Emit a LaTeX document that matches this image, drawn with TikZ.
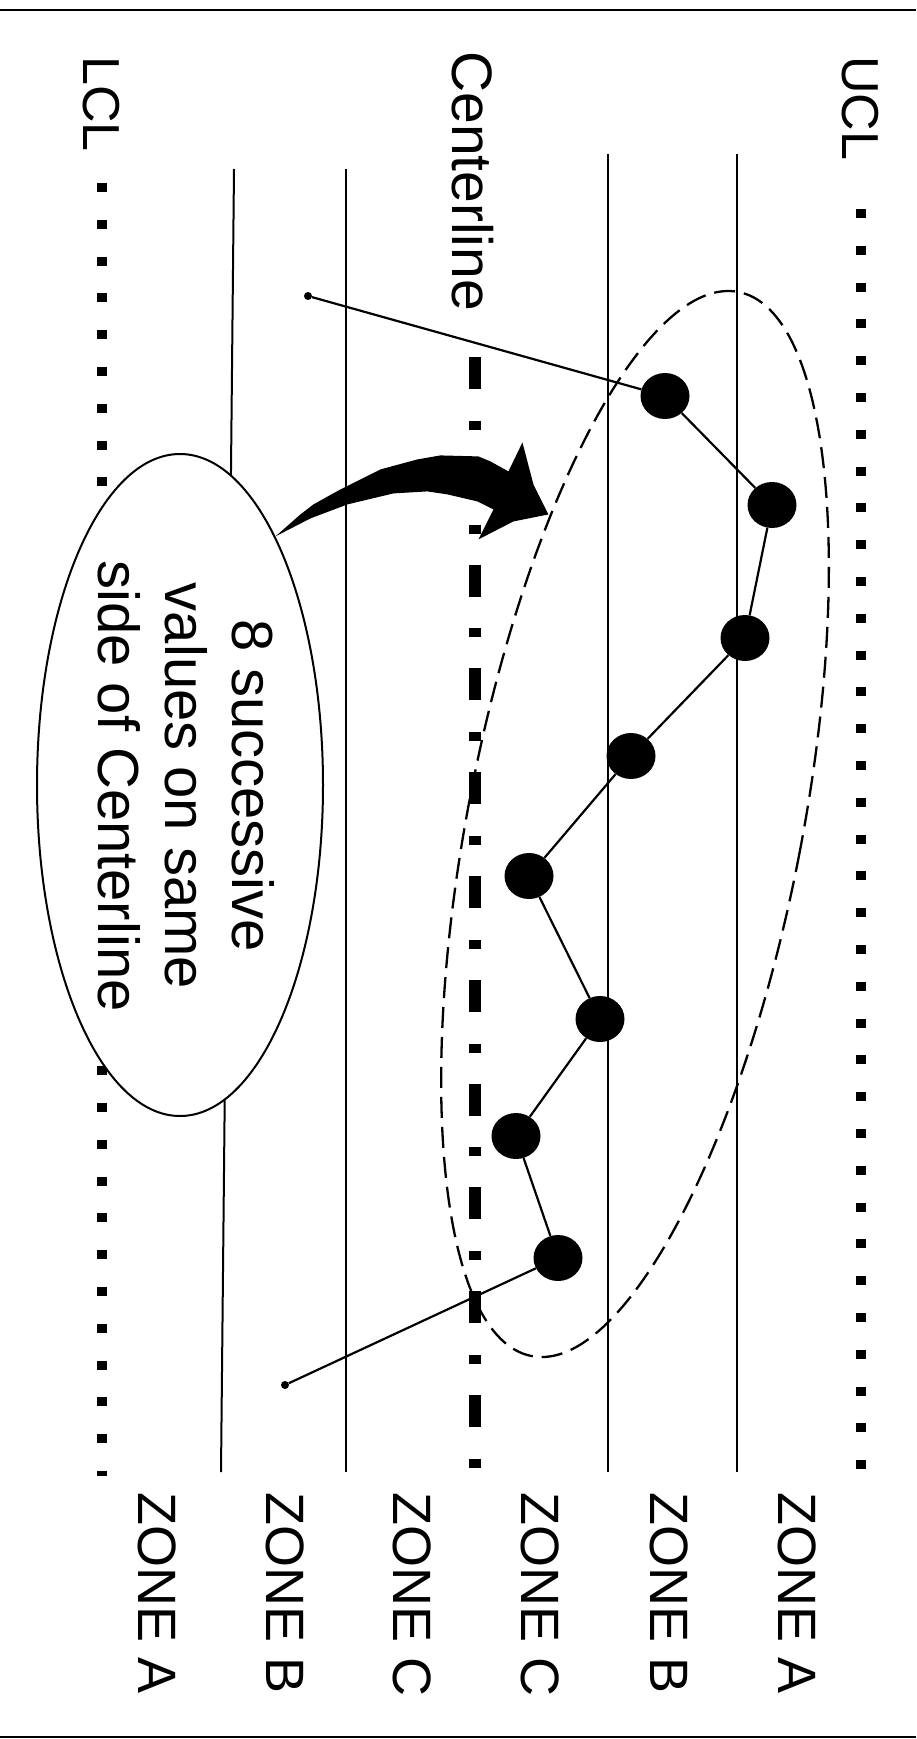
\documentclass[tikz,border=0pt]{standalone}
\usepackage{fontspec}
\setmainfont{Liberation Sans}
\usetikzlibrary{shapes.geometric}
\tikzset{
limitline/.style={line width=10pt, dash pattern=on 9pt off 27.8pt},
midline/.style={line width=12pt, dash pattern=on 32pt off 31.8pt on 9pt off 31pt},
zoneline/.style={line width=2pt},
lbl/.style={rotate=-90, anchor=west, inner sep=0pt, font=\fontsize{52}{60}\selectfont},
zonelbl/.style={lbl, font=\fontsize{54}{60}\selectfont},
bigdot/.style={ellipse, fill, minimum width=49pt, minimum height=46pt, inner sep=0pt},
smalldot/.style={circle, fill, minimum size=8pt, inner sep=0pt},
datalink/.style={line width=2.2pt},
runoval/.style={ellipse, draw, line width=2.3pt, dash pattern=on 21pt off 9pt,
  minimum width=334pt, minimum height=1084pt, rotate=-11},
callout/.style={ellipse, draw, fill=white, line width=2pt,
  minimum width=286pt, minimum height=662pt},
notetext/.style={rotate=-90, align=center, inner sep=0pt, font=\fontsize{58}{67}\selectfont}
}

\begin{document}
\begin{tikzpicture}[x=1pt, y=1pt]
  \useasboundingbox (0,0) rectangle (916,-1739);
  \draw[line width=2.5pt] (0,-10) -- (916,-10);
  \draw[line width=2.5pt] (0,-1737) -- (916,-1737);
  % control limits, centerline and zone borders
  \draw[limitline] (861,-209) -- (861,-1476);
  \draw[limitline] (102,-183) -- (102,-1476);
  \draw[midline] (475,-357) -- (475,-1470);
  \draw[zoneline] (737,-154) -- (737,-1472);
  \draw[zoneline] (608,-154) -- (608,-1472);
  \draw[zoneline] (346,-169) -- (346,-1472);
  \draw[zoneline] (234,-169) -- (221,-1472);
  \node[lbl] (ucl) at (860,-56) {UCL};
  \node[lbl, font=\fontsize{57}{60}\selectfont] (cl) at (473,-51) {Centerline};
  \node[lbl] (lcl) at (101,-56) {LCL};
  \foreach \x/\z [count=\i] in {157/A,285/B,412/C,540/C,669/B,797/A}
    \node[zonelbl] (zone\i) at (\x,-1492) {ZONE \z};
  % the run of points
  \node[runoval] (run) at (635,-824) {};
  \node[smalldot] (s0) at (308,-296) {};
  \foreach \x/\y [count=\i] in {665/396,772/505,745/638,631/756,529/876,600/1019,516/1136,558/1258}
    \node[bigdot] (p\i) at (\x,-\y) {};
  \node[smalldot] (s9) at (285,-1385) {};
  \draw[datalink] (s0) -- (p1) -- (p2) -- (p3) -- (p4) -- (p5) -- (p6) -- (p7) -- (p8) -- (s9);
  % callout
  \node[callout] (note) at (180,-785) {};
  \node[notetext] (notetxt) at (186,-786) {8 successive\\values on same\\side of Centerline};
  \fill[shift={(note.69)}] (0,0) -- (35,18) -- (72,32) -- (118,43) -- (152,45)
    -- (172,42) -- (202,35) -- (218,27) -- (203,-3) -- (238,15) -- (273,22)
    -- (258,52) -- (247,94) -- (233,65) -- (215,75) -- (203,80) -- (165,81)
    -- (142,77) -- (105,67) -- (75,52) -- (65,47) -- (38,32) -- (25,22) -- cycle;
\end{tikzpicture}
\end{document}
